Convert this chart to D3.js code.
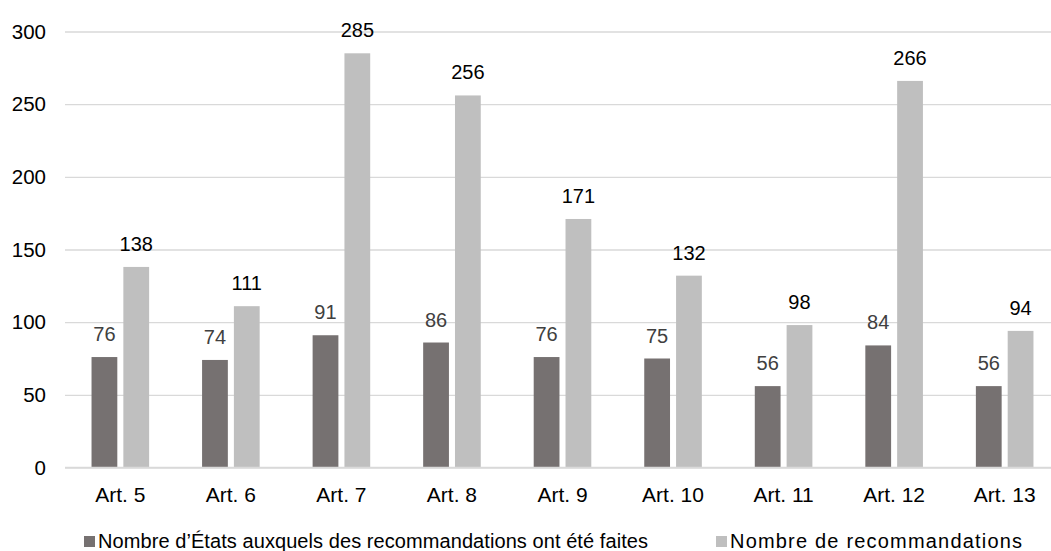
<!DOCTYPE html>
<html>
<head>
<meta charset="utf-8">
<script src="https://cdn.jsdelivr.net/npm/d3@7"></script>
<style>
  html, body { margin: 0; padding: 0; background: #fff; }
  svg { display: block; font-family: "Liberation Sans", Arial, sans-serif; }
</style>
</head>
<body>
<svg id="chart" width="1051" height="551"></svg>
<script>
const categories = ["Art. 5", "Art. 6", "Art. 7", "Art. 8", "Art. 9", "Art. 10", "Art. 11", "Art. 12", "Art. 13"];
const seriesNames = ["Nombre d’États auxquels des recommandations ont été faites", "Nombre de recommandations"];
const etatsValues = [76, 74, 91, 86, 76, 75, 56, 84, 56];
const recoValues = [138, 111, 285, 256, 171, 132, 98, 266, 94];
const yTicks = [0, 50, 100, 150, 200, 250, 300];

(function () {
const colors = ["#767171", "#bfbfbf"];
const labelColors = ["#404040", "#000000"];

const svg = d3.select("#chart");
const mLeft = 65, mRight = 1060, mTop = 31.5, mBottom = 467.5;

const x0 = d3.scaleBand().domain(categories).range([mLeft, mRight]).paddingInner(0.479).paddingOuter(0.24);
const x1 = d3.scaleBand().domain([0, 1]).range([0, x0.bandwidth()]).paddingInner(0.19).paddingOuter(0);
const y = d3.scaleLinear().domain([0, 300]).range([mBottom, mTop]);

// gridlines
const yAxis = d3.axisLeft(y).tickValues(yTicks).tickSize(-(mRight - mLeft)).tickPadding(19);
const gAxis = svg.append("g").attr("transform", `translate(${mLeft},0)`).call(yAxis);
gAxis.select(".domain").remove();
gAxis.selectAll(".tick line").attr("stroke", "#d9d9d9").attr("stroke-width", 1.3);
gAxis.selectAll(".tick text").attr("fill", "#000").attr("font-size", "20.5px")
  .attr("font-family", "'Liberation Sans', Arial, sans-serif");

const data = categories.map((c, i) => ({ cat: c, vals: [etatsValues[i], recoValues[i]] }));

const groups = svg.append("g").selectAll("g").data(data).join("g")
  .attr("transform", d => `translate(${x0(d.cat)},0)`);

groups.selectAll("rect").data(d => d.vals.map((v, k) => ({ v, k }))).join("rect")
  .attr("x", d => x1(d.k))
  .attr("width", x1.bandwidth())
  .attr("y", d => y(d.v))
  .attr("height", d => y(0) - y(d.v))
  .attr("fill", d => colors[d.k]);

groups.selectAll("text.lbl").data(d => d.vals.map((v, k) => ({ v, k }))).join("text")
  .attr("class", "lbl")
  .attr("x", d => x1(d.k) + x1.bandwidth() / 2)
  .attr("y", d => y(d.v) - 16)
  .attr("text-anchor", "middle")
  .attr("font-size", "20px")
  .attr("fill", d => labelColors[d.k])
  .text(d => d.v);

// baseline axis
svg.append("line").attr("x1", mLeft).attr("x2", mRight).attr("y1", y(0)).attr("y2", y(0))
  .attr("stroke", "#d9d9d9").attr("stroke-width", 1.5);

// category labels
const xAxis = d3.axisBottom(x0).tickSize(0).tickPadding(20);
const gx = svg.append("g").attr("transform", `translate(0,${mBottom})`).call(xAxis);
gx.select(".domain").remove();
gx.selectAll(".tick text").attr("fill", "#000").attr("font-size", "21px")
  .attr("font-family", "'Liberation Sans', Arial, sans-serif");

// legend
const legendX = [84, 716];
const legendLen = [550, 292];
const legend = svg.append("g");
seriesNames.forEach((name, k) => {
  legend.append("rect").attr("x", legendX[k]).attr("y", 536).attr("width", 11).attr("height", 11).attr("fill", colors[k]);
  legend.append("text").attr("x", legendX[k] + 14).attr("y", 547.5).attr("font-size", "20px").attr("fill", "#000")
    .attr("textLength", legendLen[k]).attr("lengthAdjust", "spacing").text(name);
});
})();
</script>
</body>
</html>
